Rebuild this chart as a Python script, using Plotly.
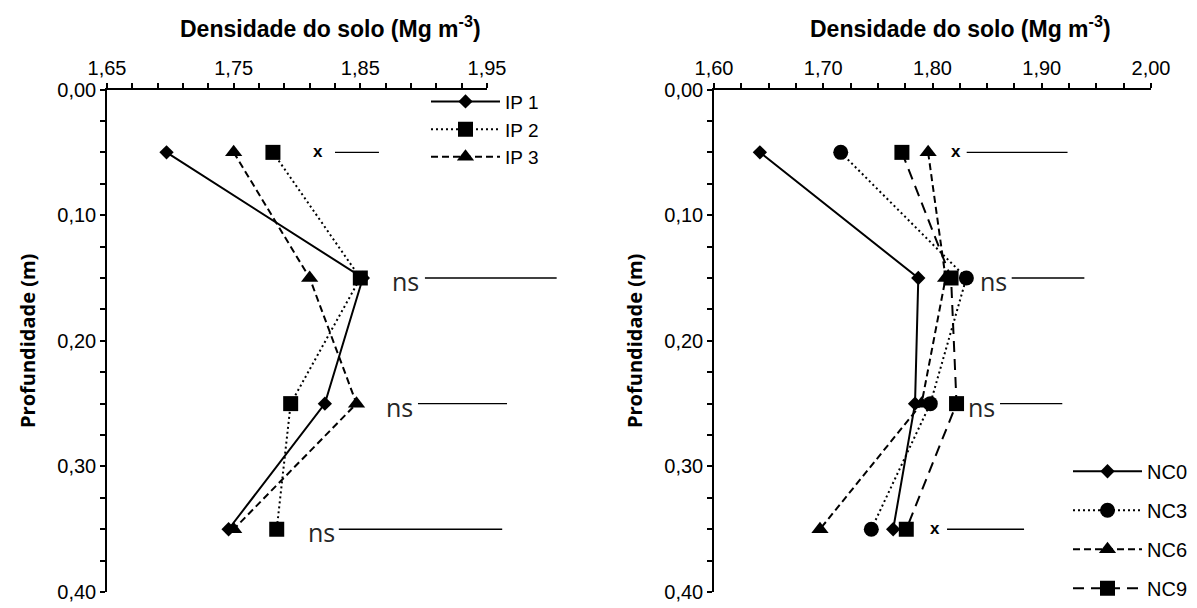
import plotly.graph_objects as go

# ---------------- data ----------------
depth = [0.05, 0.15, 0.25, 0.35]

ip1 = [1.697, 1.852, 1.822, 1.746]
ip2 = [1.781, 1.850, 1.795, 1.784]
ip3 = [1.750, 1.810, 1.847, 1.750]

nc0 = [1.642, 1.787, 1.784, 1.764]
nc3 = [1.716, 1.831, 1.798, 1.744]
nc6 = [1.796, 1.812, 1.790, 1.697]
nc9 = [1.772, 1.817, 1.822, 1.776]

left_xticks = [1.65, 1.75, 1.85, 1.95]
left_xlabels = ["1,65", "1,75", "1,85", "1,95"]
right_xticks = [1.60, 1.70, 1.80, 1.90, 2.00]
right_xlabels = ["1,60", "1,70", "1,80", "1,90", "2,00"]
yticks = [0.0, 0.1, 0.2, 0.3, 0.4]
ylabels = ["0,00", "0,10", "0,20", "0,30", "0,40"]

sig_left = ["x", "ns", "ns", "ns"]
sig_right = ["x", "ns", "ns", "x"]

# annotation placement (data units)
left_sig_x = [1.8166, 1.886, 1.881, 1.819]
left_line_x0 = [1.830, 1.901, 1.8955, 1.833]
left_line_x1 = [1.8647, 2.005, 1.9658, 1.962]
right_sig_x = [1.8212, 1.8558, 1.8449, 1.8023]
right_line_x0 = [1.8313, 1.8725, 1.8618, 1.8133]
right_line_x1 = [1.9236, 1.939, 1.9188, 1.8838]

LEFT_RANGE = [1.65, 1.95]
RIGHT_RANGE = [1.60, 2.00]
Y_RANGE = [0.40, 0.0]

DOT = "2px,3px"
DASH = "7px,4px"
LONGDASH = "11px,7px"

fig = go.Figure()


def add_series(x, name, symbol, size, dash, xa, ya, legend):
    fig.add_trace(go.Scatter(
        x=x, y=depth, name=name, mode="lines+markers",
        xaxis=xa, yaxis=ya, legend=legend, legendgroup=name,
        line=dict(color="black", width=2, dash=dash),
        marker=dict(symbol=symbol, size=size, color="black"),
        cliponaxis=False,
    ))


add_series(ip1, "IP 1", "diamond", 11, "solid", "x", "y", "legend")
add_series(ip2, "IP 2", "square", 15, DOT, "x", "y", "legend")
add_series(ip3, "IP 3", "triangle-up", 15, DASH, "x", "y", "legend")

add_series(nc0, "NC0", "diamond", 11, "solid", "x2", "y2", "legend2")
add_series(nc3, "NC3", "circle", 15, DOT, "x2", "y2", "legend2")
add_series(nc6, "NC6", "triangle-up", 15, DASH, "x2", "y2", "legend2")
add_series(nc9, "NC9", "square", 15, LONGDASH, "x2", "y2", "legend2")

annotations = []
shapes = []


def add_sig(labels, xs, x0s, x1s, xref, yref, xrange_):
    lo, hi = xrange_
    for lab, xc, a, b, d in zip(labels, xs, x0s, x1s, depth):
        if lab == "ns":
            font = dict(family="Open Sans", size=25, color="#262626")
        else:
            font = dict(family="Arial", size=17, color="black")
        annotations.append(dict(
            x=xc, y=d, xref=xref, yref=yref, text=("<b>x</b>" if lab == "x" else lab),
            showarrow=False, xanchor="center", yanchor="middle", font=font,
            yshift=(-3 if lab == "ns" else 1),
        ))
        yfrac = (Y_RANGE[0] - d) / (Y_RANGE[0] - Y_RANGE[1])
        shapes.append(dict(
            type="line", xref=xref + " domain", yref=yref + " domain",
            x0=(a - lo) / (hi - lo), x1=(b - lo) / (hi - lo), y0=yfrac, y1=yfrac,
            line=dict(color="black", width=1.3),
        ))


add_sig(sig_left, left_sig_x, left_line_x0, left_line_x1, "x", "y", LEFT_RANGE)
add_sig(sig_right, right_sig_x, right_line_x0, right_line_x1, "x2", "y2", RIGHT_RANGE)

W, H = 1197, 608
tickfont = dict(family="Arial", size=20, color="black")
xtitlefont = dict(family="Arial", size=23, color="black")
ytitlefont = dict(family="Open Sans", size=20, color="black")

XTITLE = "<b>Densidade do solo (Mg m<sup>-3</sup>)</b>"
for cx in (330, 960):
    annotations.append(dict(
        x=cx / W, y=1 - 27 / H, xref="paper", yref="paper", text=XTITLE,
        showarrow=False, xanchor="center", yanchor="middle", font=xtitlefont,
    ))


def xaxis(domain, rng, tv, tt, minor_dtick, anchor):
    return dict(
        domain=domain, range=rng, side="top", anchor=anchor,
        tickvals=tv, ticktext=tt, ticks="outside", ticklen=5, tickwidth=1.5,
        tickcolor="black", showline=True, linecolor="black", linewidth=1.5,
        showgrid=False, zeroline=False, tickfont=tickfont,
        minor=dict(dtick=minor_dtick, tick0=rng[0], ticks="outside", ticklen=5,
                   tickwidth=1.5, tickcolor="black", showgrid=False),
        automargin=False,
    )


def yaxis(domain, anchor):
    return dict(
        domain=domain, range=Y_RANGE, anchor=anchor,
        tickvals=yticks, ticktext=ylabels, ticks="outside", ticklen=5, tickwidth=1.5,
        tickcolor="black", showline=True, linecolor="black", linewidth=1.5,
        showgrid=False, zeroline=False, tickfont=tickfont,
        minor=dict(dtick=0.025, tick0=0, ticks="outside", ticklen=5,
                   tickwidth=1.5, tickcolor="black", showgrid=False),
        title=dict(text="<b>Profundidade (m)</b>", font=ytitlefont, standoff=16),
        automargin=False,
    )


ydom = [1 - 595 / H, 1 - 90 / H]
fig.update_layout(
    width=W, height=H,
    margin=dict(l=0, r=0, t=0, b=0),
    paper_bgcolor="white", plot_bgcolor="white",
    xaxis=xaxis([107 / W, 487 / W], LEFT_RANGE, left_xticks, left_xlabels, 0.02, "y"),
    yaxis=yaxis(ydom, "x"),
    xaxis2=xaxis([714 / W, 1151 / W], RIGHT_RANGE, right_xticks, right_xlabels, 0.025, "y2"),
    yaxis2=yaxis(ydom, "x2"),
    legend=dict(x=426 / W, y=1 - 83 / H, xanchor="left", yanchor="top",
                bgcolor="rgba(0,0,0,0)", itemwidth=69, traceorder="grouped",
                tracegroupgap=0, font=dict(family="Arial", size=19, color="black")),
    legend2=dict(x=1068 / W, y=1 - 454 / H, xanchor="left", yanchor="top",
                 bgcolor="rgba(0,0,0,0)", itemwidth=69, traceorder="grouped",
                 tracegroupgap=10, font=dict(family="Arial", size=20, color="black")),
    annotations=annotations,
    shapes=shapes,
    showlegend=True,
)

fig.write_html("out.html")
